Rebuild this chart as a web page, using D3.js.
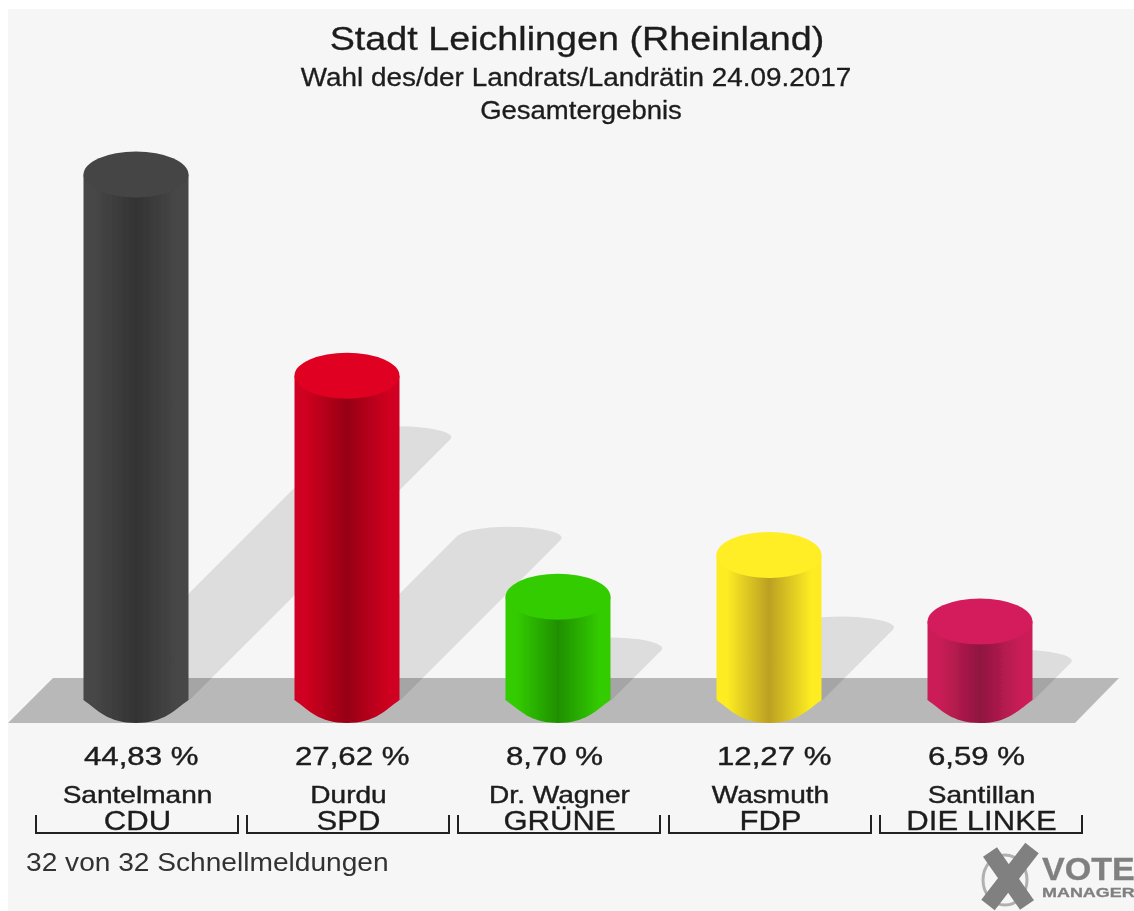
<!DOCTYPE html>
<html>
<head>
<meta charset="utf-8">
<script src="https://cdn.jsdelivr.net/npm/d3@7"></script>
<style>
html, body { margin: 0; padding: 0; background: #fff; }
svg { display: block; }
text { font-family: "Liberation Sans", Arial, sans-serif; fill: #1c1c1c; stroke: #1c1c1c; stroke-width: 0.3; text-anchor: middle; }
</style>
</head>
<body>
<svg width="1134" height="911"></svg>
<script>
const parties = ['CDU', 'SPD', 'GRÜNE', 'FDP', 'DIE LINKE'];
const candidates = ['Santelmann', 'Durdu', 'Dr. Wagner', 'Wasmuth', 'Santillan'];
const values = [44.83, 27.62, 8.70, 12.27, 6.59];
const valueLabels = ['44,83 %', '27,62 %', '8,70 %', '12,27 %', '6,59 %'];
const topColors = ['#454545', '#df0020', '#33cc00', '#ffee28', '#d41f5c'];
const edgeColors = ['#474747', '#d00020', '#33cc00', '#fdec20', '#cc1f58'];
const darkColors = ['#333333', '#960014', '#1f9000', '#bba020', '#8f1440'];

const svg = d3.select('svg');
const width = +svg.attr('width');
const height = +svg.attr('height');

const floorY = 700;
const rx = 52.5;
const ry = 23;
const shadowRy = 11;

const xscale = d3.scaleBand().domain(parties).range([30.5, 1085.5]);
const cx = d => xscale(d) + xscale.bandwidth() / 2;
const yscale = d3.scaleLinear().domain([0, 44.83]).range([698.5, 174.5]);

const data = parties.map((p, i) => ({
    party: p, name: candidates[i], value: values[i], label: valueLabels[i],
    top: topColors[i], edge: edgeColors[i], dark: darkColors[i]
}));

const defs = svg.append('defs');
defs.append('filter').attr('id', 'soft')
    .append('feGaussianBlur').attr('stdDeviation', 0.6);

svg.append('rect').attr('x', 8).attr('y', 9)
    .attr('width', width - 8).attr('height', height - 9).attr('fill', '#f6f6f6');

const g = svg.append('g').attr('filter', 'url(#soft)');

g.append('path')
    .attr('d', 'M8,723L53,678L1119,678L1075,723Z')
    .attr('fill', '#b8b8b8');

// gradients
data.forEach((d, i) => {
    const grad = defs.append('linearGradient').attr('id', 'body' + i);
    [[0, d.edge], [0.1, d.edge], [0.5, d.dark], [0.9, d.edge], [1, d.edge]].forEach(s => {
        grad.append('stop').attr('offset', s[0]).attr('stop-color', s[1]);
    });
});

// shadows, ellipse tangent to the diagonal sides
const tanT = Math.atan(shadowRy / rx);
const tx = rx * Math.cos(tanT);
const ty = shadowRy * Math.sin(tanT);

g.append('g').selectAll('path').data(data).enter().append('path')
    .attr('fill', 'rgba(0,0,0,0.1)')
    .attr('d', d => {
        const c = cx(d.party);
        const off = (floorY - yscale(d.value)) / 2;
        return `M${c - tx - ty},${floorY}L${c + off - tx},${floorY - off - ty}`
            + `A${rx},${shadowRy} 0 0 1 ${c + off + tx},${floorY - off + ty}L${c + tx + ty},${floorY}Z`;
    });

// cylinders, the bottom edge is flatter than a true ellipse
const bars = g.append('g').selectAll('g').data(data).enter().append('g');

bars.append('path')
    .attr('fill', (d, i) => `url(#body${i})`)
    .attr('d', d => {
        const c = cx(d.party);
        const b = floorY + ry;
        return `M${c - rx},${yscale(d.value)}L${c - rx},${floorY}`
            + `C${c - rx + 14},${floorY + 10} ${c - 28},${b} ${c},${b}`
            + `C${c + 28},${b} ${c + rx - 14},${floorY + 10} ${c + rx},${floorY}`
            + `L${c + rx},${yscale(d.value)}Z`;
    });

bars.append('ellipse')
    .attr('cx', d => cx(d.party))
    .attr('cy', d => yscale(d.value))
    .attr('rx', rx).attr('ry', ry)
    .attr('fill', d => d.top);

// the reference text is stretched sideways, so every text gets its own x scale
const stretched = (sel, x, y, sx) => sel.attr('transform', `translate(${x},${y}) scale(${sx},1)`);

stretched(g.append('text').style('font-size', '33px').text('Stadt Leichlingen (Rheinland)'), 577, 50, 1.143);
stretched(g.append('text').style('font-size', '25px').text('Wahl des/der Landrats/Landrätin 24.09.2017'), 576, 86, 1.115);
stretched(g.append('text').style('font-size', '25px').text('Gesamtergebnis'), 581, 119, 1.10);

// labels
const labels = g.append('g').selectAll('g').data(data).enter().append('g')
    .attr('transform', d => `translate(${cx(d.party)},0)`);

labels.append('text').style('font-size', '26px').style('text-anchor', 'start')
    .style('stroke-width', 0.4)
    .attr('transform', 'translate(-52,765) scale(1.2,1)')
    .text(d => d.label);
labels.append('text').style('font-size', '23px')
    .style('stroke-width', 0.4)
    .attr('transform', 'translate(1.5,803) scale(1.22,1)')
    .text(d => d.name);
labels.append('text').style('font-size', '28px')
    .attr('transform', 'translate(1.5,830) scale(1.11,1)')
    .text(d => d.party);
labels.append('path')
    .attr('fill', 'none').attr('stroke', '#222').attr('stroke-width', 2)
    .attr('d', 'M-100,815V833H102V815');

stretched(g.append('text').style('font-size', '25px')
    .style('text-anchor', 'start').style('fill', '#333').style('stroke', 'none')
    .text('32 von 32 Schnellmeldungen'), 26, 871, 1.125);

// logo
const logo = g.append('g');
logo.append('ellipse').attr('cx', 1005).attr('cy', 880).attr('rx', 22).attr('ry', 25)
    .attr('fill', 'none').attr('stroke', '#b0b0b0').attr('stroke-width', 3);
logo.append('path').attr('d', 'M990,852L1027,905').attr('stroke', '#808080').attr('stroke-width', 17);
logo.append('path').attr('d', 'M1032,848L988,905').attr('stroke', '#808080').attr('stroke-width', 17);
stretched(logo.append('text').style('font-size', '31px')
    .style('font-weight', 'bold').style('text-anchor', 'start').style('fill', '#808080').style('stroke', '#808080')
    .text('VOTE'), 1042, 880, 1.1);
stretched(logo.append('text').style('font-size', '13.5px')
    .style('font-weight', 'bold').style('text-anchor', 'start').style('fill', '#808080').style('stroke', '#808080')
    .text('MANAGER'), 1042, 897, 1.33);
</script>
</body>
</html>
